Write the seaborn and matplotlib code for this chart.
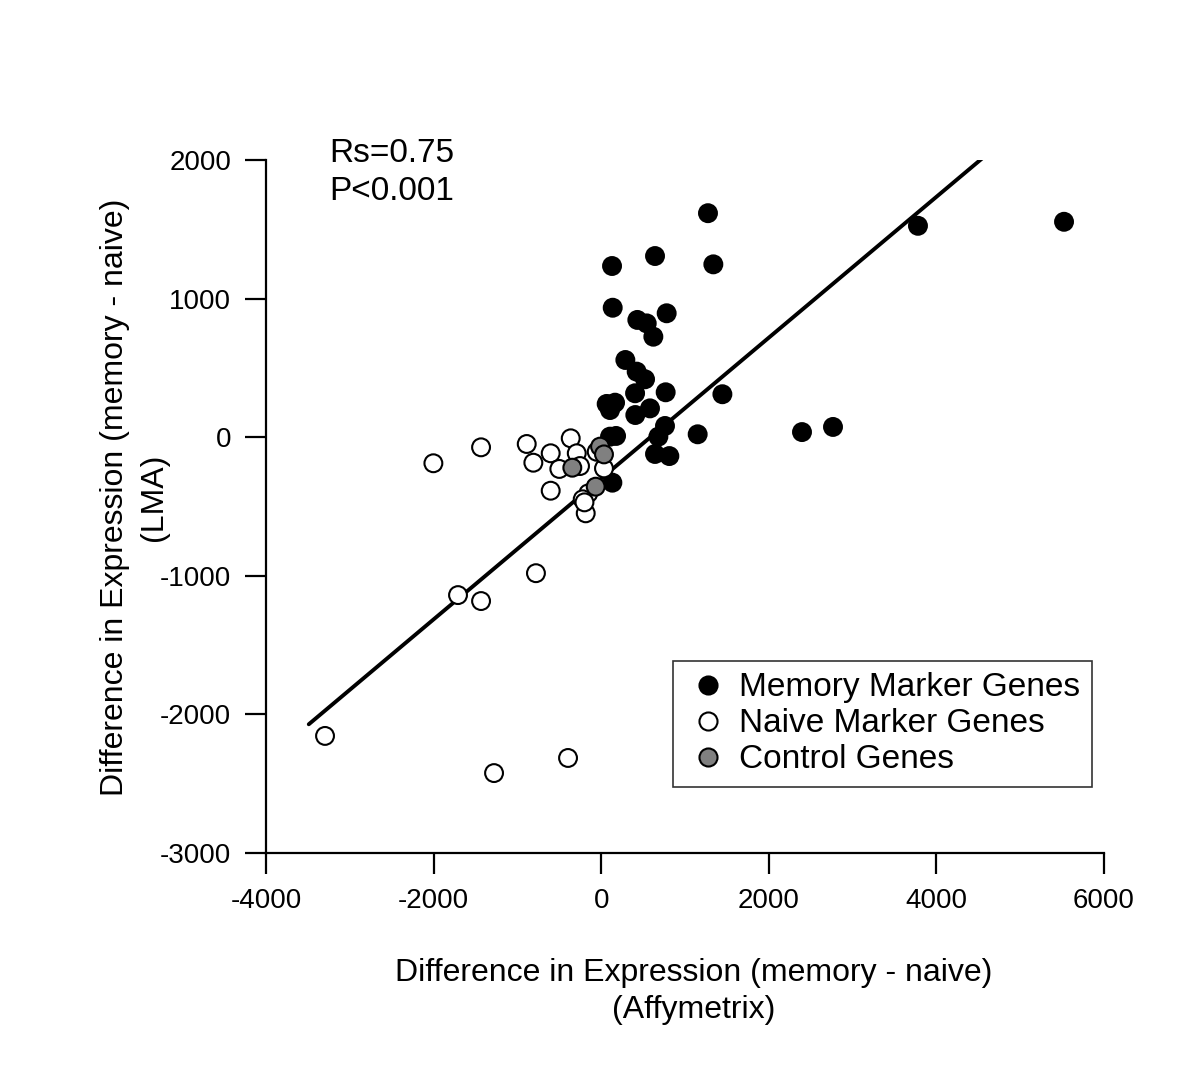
import numpy as np
import pandas as pd
import matplotlib
matplotlib.use("Agg")
import matplotlib.pyplot as plt
import seaborn as sns
from matplotlib.lines import Line2D

# values (Affymetrix diff, LMA diff)
memory_x = [1274, 642, 1338, 129, 137, 431, 543, 622, 781, 288, 423, 523, 404, 769,
            1446, 65, 165, 105, 582, 407, 105, 177, 761, 682, 1151, 642, 813, 133,
            3780, 5523, 2766, 2396]
memory_y = [1616, 1307, 1247, 1235, 934, 846, 821, 725, 894, 557, 473, 418, 317, 324,
            310, 240, 249, 196, 208, 160, 4, 9, 81, 4, 21, -121, -136, -328,
            1525, 1554, 74, 37]

naive_x = [-2003, -1434, -889, -810, -603, -364, -292, -500, -253, -54, 33, -603,
           -154, -221, -185, -779, -1709, -1434, -3296, -1279, -396, -200]
naive_y = [-188, -73, -49, -184, -116, -8, -116, -229, -208, -105, -225, -386,
           -405, -448, -549, -981, -1139, -1182, -2155, -2423, -2314, -470]

control_x = [-14, 33, -345, -66]
control_y = [-68, -124, -220, -357]

groups = ["Memory Marker Genes", "Naive Marker Genes", "Control Genes"]
colors = ["black", "white", "#808080"]

line_x = [-3490, 4700]
slope, intercept = 0.508, -298

df = pd.concat([
    pd.DataFrame({"x": memory_x, "y": memory_y, "group": groups[0]}),
    pd.DataFrame({"x": naive_x, "y": naive_y, "group": groups[1]}),
    pd.DataFrame({"x": control_x, "y": control_y, "group": groups[2]}),
])

sns.set_style("ticks")
plt.rcParams["font.family"] = ["Liberation Sans", "DejaVu Sans"]
plt.rcParams["axes.unicode_minus"] = False
for k in ["text.color", "axes.labelcolor", "xtick.color", "ytick.color", "axes.edgecolor"]:
    plt.rcParams[k] = "black"

fig = plt.figure(figsize=(12, 10.65), dpi=100)
ax = fig.add_axes([0.2217, 0.199, 0.92 - 0.2217, 0.8498 - 0.199])

sns.scatterplot(data=df, x="x", y="y", hue="group", palette=dict(zip(groups, colors)),
                s=165, edgecolor="black", linewidth=1.5, legend=False, ax=ax, zorder=3)

lx = np.array(line_x)
ax.plot(lx, slope * lx + intercept, color="black", lw=2.8, zorder=2)

ax.set_xlim(-4000, 6000)
ax.set_ylim(-3000, 2000)
ax.set_xticks([-4000, -2000, 0, 2000, 4000, 6000])
ax.set_yticks([-3000, -2000, -1000, 0, 1000, 2000])
ax.tick_params(direction="out", length=15, width=1.6, labelsize=20, pad=10)
for s in ["top", "right"]:
    ax.spines[s].set_visible(False)
for s in ["left", "bottom"]:
    ax.spines[s].set_linewidth(1.6)
ax.set_xlabel("Difference in Expression (memory - naive)\n(Affymetrix)", fontsize=23,
              linespacing=1.28)
ax.xaxis.set_label_coords(0.51, -0.152)
ax.set_ylabel("Difference in Expression (memory - naive)", fontsize=23)
ax.yaxis.set_label_coords(-0.162, 0.513)
ax.text(-0.1337, 0.513, "(LMA)", fontsize=23, rotation=90, ha="center", va="center",
        transform=ax.transAxes)

ax.text(-3250, 2160, "Rs=0.75\nP<0.001", fontsize=24, va="top", ha="left",
        linespacing=1.3, clip_on=False)

handles = [Line2D([], [], marker="o", ls="", markerfacecolor=c, markeredgecolor="black",
                  markersize=13, markeredgewidth=1.5) for c in colors]
leg = ax.legend(handles, groups, loc="lower right", bbox_to_anchor=(0.9857, 0.0952),
                fontsize=24, frameon=True, fancybox=False, edgecolor="black",
                handletextpad=0.2, borderpad=0.35, labelspacing=0.15, handlelength=1.45,
                borderaxespad=0)
leg.get_frame().set_linewidth(1.2)

fig.savefig("out.png", dpi=100, facecolor="white")
